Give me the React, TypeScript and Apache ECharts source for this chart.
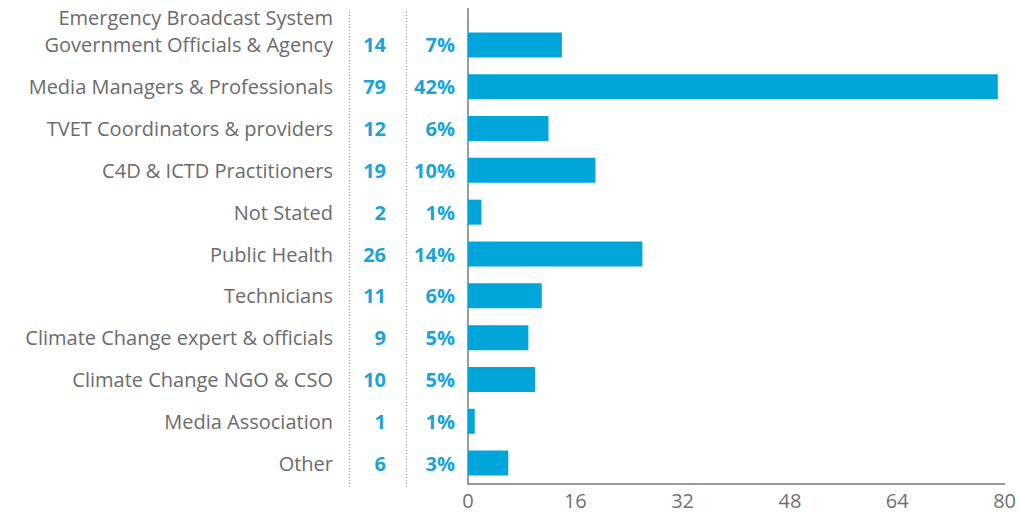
import React, { useEffect, useRef } from "react";
import * as echarts from "echarts";

const categories = [
  "Emergency Broadcast System\nGovernment Officials & Agency",
  "Media Managers & Professionals",
  "TVET Coordinators & providers",
  "C4D & ICTD Practitioners",
  "Not Stated",
  "Public Health",
  "Technicians",
  "Climate Change expert & officials",
  "Climate Change NGO & CSO",
  "Media Association",
  "Other",
];
const counts = [14, 79, 12, 19, 2, 26, 11, 9, 10, 1, 6];
const percents = [7, 42, 6, 10, 1, 14, 6, 5, 5, 1, 3];
const xTicks = { min: 0, max: 80, interval: 16 };

const BLUE = "#00A6DA";
const FONT = "Open Sans";

export default function App() {
  const ref = useRef<HTMLDivElement>(null);
  useEffect(() => {
    if (!ref.current) return;
    const chart = echarts.init(ref.current, undefined, { renderer: "svg" });
    const gridLeft = 468;
    const gridTop = 24;
    const gridBottom = 484;
    const labelAxis = (data: string[], margin: number, style: any) => ({
      type: "category",
      data,
      inverse: true,
      position: "left",
      axisLine: { show: false },
      axisTick: { show: false },
      splitLine: { show: false },
      axisLabel: { margin, interval: 0, align: "right", ...style },
    });
    chart.setOption({
      animation: false,
      grid: { left: gridLeft, top: gridTop, width: 538, height: gridBottom - gridTop, containLabel: false },
      xAxis: {
        type: "value",
        min: xTicks.min,
        max: xTicks.max,
        interval: xTicks.interval,
        axisLine: { show: true, onZero: false, lineStyle: { color: "#7a7a7a", width: 1.5 } },
        axisTick: { show: false },
        splitLine: { show: false },
        axisLabel: { color: "#707070", fontSize: 20, fontFamily: FONT, margin: 6 },
      },
      yAxis: [
        {
          type: "category",
          data: categories.map((c) => (c.includes("\n") ? c + "\n" : c)),
          inverse: true,
          axisLine: { show: true, onZero: false, lineStyle: { color: "#7a7a7a", width: 1.5 } },
          axisTick: { show: false },
          splitLine: { show: false },
          axisLabel: {
            margin: 135,
            interval: 0,
            align: "right",
            color: "#6b6b6b",
            fontSize: 20,
            fontFamily: FONT,
            lineHeight: 27,
          },
        },
        labelAxis(counts.map(String), 82, {
          color: "#1BA3D8",
          fontSize: 20,
          fontFamily: FONT,
          fontWeight: "bold",
        }),
        labelAxis(percents.map((p) => p + "%"), 13, {
          color: "#1BA3D8",
          fontSize: 20,
          fontFamily: FONT,
          fontWeight: "bold",
        }),
      ],
      series: [
        {
          type: "bar",
          data: counts,
          yAxisIndex: 0,
          barWidth: 25,
          itemStyle: { color: BLUE },
        },
      ],
      graphic: [
        {
          type: "line",
          shape: { x1: gridLeft, y1: 8, x2: gridLeft, y2: gridTop },
          style: { stroke: "#7a7a7a", lineWidth: 1.5 },
        },
        {
          type: "line",
          shape: { x1: 349.5, y1: 12, x2: 349.5, y2: 489 },
          style: { stroke: "#9a9a9a", lineWidth: 1, lineDash: [1, 2] },
        },
        {
          type: "line",
          shape: { x1: 406.5, y1: 12, x2: 406.5, y2: 488 },
          style: { stroke: "#9a9a9a", lineWidth: 1, lineDash: [1, 2] },
        },
      ],
    });
    return () => chart.dispose();
  }, []);
  return (
    <div
      ref={ref}
      style={{ position: "fixed", left: 0, top: 0, width: 1019, height: 516, background: "#ffffff" }}
    />
  );
}
